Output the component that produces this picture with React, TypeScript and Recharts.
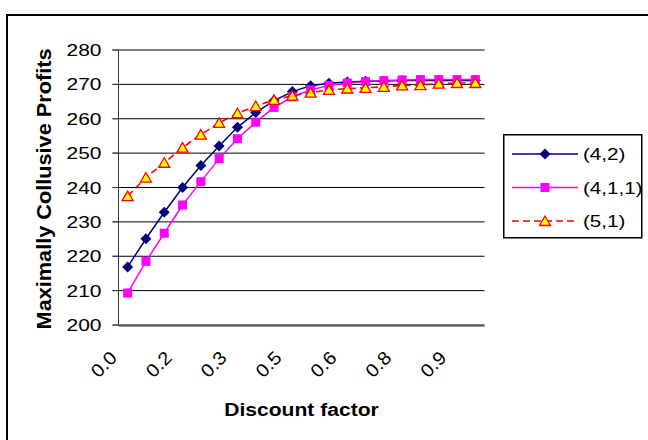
import { LineChart, Line, XAxis, YAxis, CartesianGrid, Legend } from "recharts";

const factors = [
  0.0, 0.05, 0.1, 0.15, 0.2, 0.25, 0.3, 0.35, 0.4, 0.45, 0.5, 0.55, 0.6, 0.65,
  0.7, 0.75, 0.8, 0.85, 0.9, 0.95,
];
const profits42 = [
  216.9, 225.1, 232.8, 240.0, 246.4, 252.1, 257.5, 261.8, 265.3, 267.9, 269.6,
  270.3, 270.7, 270.9, 271.0, 271.1, 271.1, 271.1, 271.1, 271.1,
];
const profits411 = [
  209.3, 218.5, 226.7, 234.9, 241.7, 248.4, 254.2, 259.0, 263.3, 266.4, 268.4,
  269.7, 270.4, 270.8, 271.1, 271.3, 271.4, 271.4, 271.4, 271.4,
];
const profits51 = [
  237.5, 242.9, 247.2, 251.6, 255.4, 258.8, 261.6, 263.7, 265.5, 266.7, 267.6,
  268.4, 268.8, 269.0, 269.3, 269.7, 269.8, 270.2, 270.4, 270.4,
];
const seriesNames = ["(4,2)", "(4,1,1)", "(5,1)"];
const xLabelValues = [0, 0.15, 0.3, 0.45, 0.6, 0.75, 0.9];
const xTickLabels = ["0.0", "0.2", "0.3", "0.5", "0.6", "0.8", "0.9"];
const yTicks = [200, 210, 220, 230, 240, 250, 260, 270, 280];

const data = factors.map((f, i) => ({
  factor: f,
  s42: profits42[i],
  s411: profits411[i],
  s51: profits51[i],
}));

// categories sit between tick marks, like Excel's "between categories" axis
const step = factors[1] - factors[0];
const xDomain = [factors[0] - step / 2, factors[factors.length - 1] + step / 2];
const boundaries = [...factors.map((f) => f - step / 2), xDomain[1]];

const FONT = "'Liberation Sans', Arial, sans-serif";
const AXIS = "#333";

const Diamond = ({ cx, cy }: { cx: number; cy: number }) => (
  <path
    d={`M${cx},${cy - 5.5}L${cx + 5.5},${cy}L${cx},${cy + 5.5}L${cx - 5.5},${cy}Z`}
    fill="#000080"
  />
);
const Square = ({ cx, cy }: { cx: number; cy: number }) => (
  <rect x={cx - 4.5} y={cy - 4.5} width={9} height={9} fill="#FF00FF" />
);
const Triangle = ({ cx, cy }: { cx: number; cy: number }) => (
  <path
    d={`M${cx},${cy - 5}L${cx + 5.5},${cy + 4.5}L${cx - 5.5},${cy + 4.5}Z`}
    fill="#FFFF00"
    stroke="#FF0000"
    strokeWidth={1.3}
  />
);

// the reference text looks horizontally stretched, so widen it a bit
const WideText = ({ x, y, sx, rotate = 0, anchor = "start", size, bold = false, children }: any) => (
  <g transform={`translate(${x},${y}) rotate(${rotate}) scale(${sx},1)`}>
    <text
      x={0}
      y={0}
      textAnchor={anchor}
      fontSize={size}
      fontWeight={bold ? "bold" : "normal"}
      fontFamily={FONT}
      fill="#000"
    >
      {children}
    </text>
  </g>
);

// y tick: label plus the short outward tick mark
const YTick = ({ x, y, payload }: any) => (
  <g>
    <line x1={x + 11} x2={x + 17} y1={y} y2={y} stroke={AXIS} />
    <WideText x={x} y={y + 6} sx={1.27} anchor="end" size={16.5}>
      {payload.value}
    </WideText>
  </g>
);

const XTick = ({ x, y, payload }: any) => {
  const i = xLabelValues.indexOf(payload.value);
  return (
    <WideText x={x - 9.5} y={y + 34} sx={1.08} rotate={-45} anchor="end" size={18.5}>
      {xTickLabels[i]}
    </WideText>
  );
};

const LegendBox = () => {
  const rows = [
    { name: seriesNames[0], color: "#000080", dash: undefined, Mark: Diamond },
    { name: seriesNames[1], color: "#FF00FF", dash: undefined, Mark: Square },
    { name: seriesNames[2], color: "#FF0000", dash: "7 4", Mark: Triangle },
  ];
  return (
    <svg width={140} height={105}>
      <rect x={0.75} y={0.75} width={138} height={103} fill="#fff" stroke="#000" strokeWidth={1.5} />
      {rows.map((r, i) => {
        const cy = 20 + i * 33.5;
        return (
          <g key={r.name}>
            <line x1={9} x2={75} y1={cy} y2={cy} stroke={r.color} strokeWidth={1.6} strokeDasharray={r.dash} />
            <r.Mark cx={42} cy={cy} />
            <WideText x={80} y={cy + 6} sx={1.25} size={16.5}>
              {r.name}
            </WideText>
          </g>
        );
      })}
    </svg>
  );
};

export default function App() {
  return (
    <div
      style={{
        position: "absolute",
        left: 0,
        top: 0,
        width: 648,
        height: 440,
        overflow: "hidden",
        background: "#fff",
      }}
    >
      <div
        style={{
          position: "absolute",
          left: 6,
          top: 14,
          width: 700,
          height: 500,
          border: "2px solid #000",
        }}
      />
      <div style={{ position: "absolute", left: 0, top: 0 }}>
        <LineChart
          width={648}
          height={440}
          data={data}
          margin={{ top: 50, right: 163.5, bottom: 113, left: 58.5 }}
        >
          {/* horizontal gridlines plus the vertical axis line at the plot's left edge */}
          <CartesianGrid
            horizontal
            vertical
            stroke="#000"
            strokeWidth={1}
            verticalCoordinatesGenerator={({ offset }: any) => [offset.left]}
          />
          <XAxis
            xAxisId="frame"
            type="number"
            domain={xDomain}
            ticks={boundaries}
            interval={0}
            height={1}
            tick={false}
            tickSize={6}
            stroke={AXIS}
            allowDataOverflow
            label={{
              content: ({ viewBox }: any) => (
                <WideText
                  x={viewBox.x + viewBox.width / 2}
                  y={viewBox.y + 90}
                  sx={1.14}
                  anchor="middle"
                  size={18.5}
                  bold
                >
                  Discount factor
                </WideText>
              ),
            }}
          />
          <XAxis
            dataKey="factor"
            type="number"
            domain={xDomain}
            ticks={xLabelValues}
            interval={0}
            height={1}
            tickLine={false}
            axisLine={false}
            tickSize={0}
            tickMargin={0}
            tick={(p: any) => <XTick {...p} />}
            allowDataOverflow
          />
          <YAxis
            width={60}
            domain={[200, 280]}
            ticks={yTicks}
            interval={0}
            tickSize={6}
            tickMargin={11}
            stroke={AXIS}
            tick={(p: any) => <YTick {...p} />}
            label={{
              content: ({ viewBox }: any) => (
                <WideText
                  x={viewBox.x - 8}
                  y={viewBox.y + viewBox.height / 2 + 1.5}
                  sx={1.085}
                  rotate={-90}
                  anchor="middle"
                  size={20}
                  bold
                >
                  Maximally Collusive Profits
                </WideText>
              ),
            }}
          />
          <Legend
            layout="horizontal"
            verticalAlign="middle"
            align="center"
            wrapperStyle={{ left: 503, top: 134, width: 140, height: 105 }}
            content={() => <LegendBox />}
          />
          <Line
            dataKey="s42"
            name={seriesNames[0]}
            stroke="#000080"
            strokeWidth={1.5}
            isAnimationActive={false}
            dot={(p: any) => <Diamond key={`d${p.index}`} cx={p.cx} cy={p.cy} />}
          />
          <Line
            dataKey="s411"
            name={seriesNames[1]}
            stroke="#FF00FF"
            strokeWidth={1.5}
            isAnimationActive={false}
            dot={(p: any) => <Square key={`s${p.index}`} cx={p.cx} cy={p.cy} />}
          />
          <Line
            dataKey="s51"
            name={seriesNames[2]}
            stroke="#FF0000"
            strokeWidth={1.6}
            strokeDasharray="7 4"
            isAnimationActive={false}
            dot={(p: any) => <Triangle key={`t${p.index}`} cx={p.cx} cy={p.cy} />}
          />
        </LineChart>
      </div>
    </div>
  );
}
